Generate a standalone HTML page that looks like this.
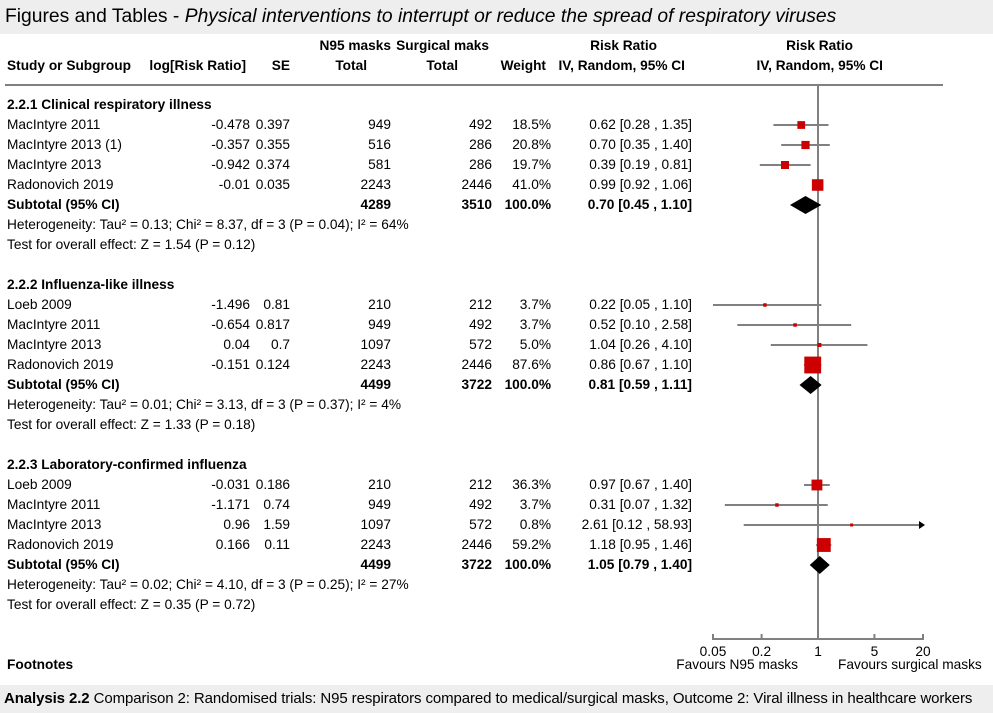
<!DOCTYPE html>
<html><head><meta charset="utf-8">
<style>
body{margin:0;width:993px;height:713px;background:#fff;position:relative;overflow:hidden;font-family:"Liberation Sans",Arial,sans-serif;color:#000}
.t{position:absolute;font-size:13.7px;white-space:nowrap;line-height:15px}
.b{font-weight:bold}
#topbar{position:absolute;left:0;top:0;width:993px;height:34px;background:#eeeeee}
#botbar{position:absolute;left:0;top:685px;width:993px;height:28px;background:#eeeeee}
svg{position:absolute;left:0;top:0}
</style></head><body>
<div id="topbar"><div style="position:absolute;left:5px;top:6px;font-size:19.3px">Figures and Tables - <i>Physical interventions to interrupt or reduce the spread of respiratory viruses</i></div></div>
<div id="botbar"><div style="position:absolute;left:4px;top:5px;font-size:15px;letter-spacing:-0.1px"><b>Analysis 2.2</b> Comparison 2: Randomised trials: N95 respirators compared to medical/surgical masks, Outcome 2: Viral illness in healthcare workers</div></div>
<div id="tbl"></div>
<svg id="plot" width="993" height="713"></svg>
<script>
const studies=[
["2.2.1 Clinical respiratory illness"],
["MacIntyre 2011","-0.478","0.397","949","492","18.5%","0.62 [0.28 , 1.35]"],
["MacIntyre 2013 (1)","-0.357","0.355","516","286","20.8%","0.70 [0.35 , 1.40]"],
["MacIntyre 2013","-0.942","0.374","581","286","19.7%","0.39 [0.19 , 0.81]"],
["Radonovich 2019","-0.01","0.035","2243","2446","41.0%","0.99 [0.92 , 1.06]"],
["Subtotal (95% CI)","","","4289","3510","100.0%","0.70 [0.45 , 1.10]","S"],
["Heterogeneity: Tau² = 0.13; Chi² = 8.37, df = 3 (P = 0.04); I² = 64%","H"],
["Test for overall effect: Z = 1.54 (P = 0.12)","H"],
[],
["2.2.2 Influenza-like illness"],
["Loeb 2009","-1.496","0.81","210","212","3.7%","0.22 [0.05 , 1.10]"],
["MacIntyre 2011","-0.654","0.817","949","492","3.7%","0.52 [0.10 , 2.58]"],
["MacIntyre 2013","0.04","0.7","1097","572","5.0%","1.04 [0.26 , 4.10]"],
["Radonovich 2019","-0.151","0.124","2243","2446","87.6%","0.86 [0.67 , 1.10]"],
["Subtotal (95% CI)","","","4499","3722","100.0%","0.81 [0.59 , 1.11]","S"],
["Heterogeneity: Tau² = 0.01; Chi² = 3.13, df = 3 (P = 0.37); I² = 4%","H"],
["Test for overall effect: Z = 1.33 (P = 0.18)","H"],
[],
["2.2.3 Laboratory-confirmed influenza"],
["Loeb 2009","-0.031","0.186","210","212","36.3%","0.97 [0.67 , 1.40]"],
["MacIntyre 2011","-1.171","0.74","949","492","3.7%","0.31 [0.07 , 1.32]"],
["MacIntyre 2013","0.96","1.59","1097","572","0.8%","2.61 [0.12 , 58.93]"],
["Radonovich 2019","0.166","0.11","2243","2446","59.2%","1.18 [0.95 , 1.46]"],
["Subtotal (95% CI)","","","4499","3722","100.0%","1.05 [0.79 , 1.40]","S"],
["Heterogeneity: Tau² = 0.02; Chi² = 4.10, df = 3 (P = 0.25); I² = 27%","H"],
["Test for overall effect: Z = 0.35 (P = 0.72)","H"]
];
const estimates=[null,0.62,0.70,0.39,0.99,0.70,null,null,null,null,0.22,0.52,1.04,0.86,0.81,null,null,null,null,0.97,0.31,2.61,1.18,1.05];
const lowers=[null,0.28,0.35,0.19,0.92,0.45,null,null,null,null,0.05,0.10,0.26,0.67,0.59,null,null,null,null,0.67,0.07,0.12,0.95,0.79];
const uppers=[null,1.35,1.40,0.81,1.06,1.10,null,null,null,null,1.10,2.58,4.10,1.10,1.11,null,null,null,null,1.40,1.32,58.93,1.46,1.40];
const weights=[null,18.5,20.8,19.7,41.0,null,null,null,null,null,3.7,3.7,5.0,87.6,null,null,null,null,null,36.3,3.7,0.8,59.2,null];
const ticks=[0.05,0.2,1,5,20];

const tbl=document.getElementById('tbl');
function txt(s,x,y,cls,right,name){
  const d=document.createElement('div');
  d.className='t '+(cls||'');
  d.textContent=s;
  if(right){d.style.right=(993-x)+'px';}else{d.style.left=x+'px';}
  d.style.top=(y-7)+'px';
  
  
  tbl.appendChild(d);
}
txt('N95 masks',391,45,'b',true,'header-n95');
txt('Surgical maks',489,45,'b',true,'header-surgical');
txt('Risk Ratio',657,45,'b',true,'header-rr');
txt('Risk Ratio',853,45,'b',true,'header-rr-plot');
txt('Study or Subgroup',7,65,'b',false,'header-study');
txt('log[Risk Ratio]',246,65,'b',true,'header-logrr');
txt('SE',290,65,'b',true,'header-se');
txt('Total',367,65,'b',true,'header-total-n95');
txt('Total',458,65,'b',true,'header-total-surgical');
txt('Weight',546,65,'b',true,'header-weight');
txt('IV, Random, 95% CI',685,65,'b',true,'header-ci');
txt('IV, Random, 95% CI',883,65,'b',true,'header-ci-plot');
txt('Footnotes',7,664,'b',false,'footnotes');
txt('Favours N95 masks',798,664,'',true,'favours-left');
txt('Favours surgical masks',838,664,'',false,'favours-right');

const svg=document.getElementById('plot');
const NS='http://www.w3.org/2000/svg';
const xs=v=>818+80.7*Math.log10(v);
const X0=xs(0.05),X1=xs(20);
const clamp=v=>Math.max(X0,Math.min(X1,v));
function el(tag,attrs,name){
  const e=document.createElementNS(NS,tag);
  for(const k in attrs)e.setAttribute(k,attrs[k]);
  
  
  svg.appendChild(e);return e;
}
el('line',{x1:5,y1:85,x2:943,y2:85,stroke:'#808080','stroke-width':2},'header-rule');

studies.forEach((r,i)=>{
  const y=104+i*20;
  if(r.length===1){txt(r[0],7,y,'b',false,'subgroup-heading');return;}
  if(r.length===2){txt(r[0],7,y,'',false,'heterogeneity-text');return;}
  if(r.length===0)return;
  const S=r[7]==='S';const c=S?'b':'';
  txt(r[0],7,y,c,false,S?'subtotal-label':'study-name');
  if(r[1])txt(r[1],250,y,'',true,'log-rr');
  if(r[2])txt(r[2],290,y,'',true,'se');
  txt(r[3],391,y,c,true,'n95-total');
  txt(r[4],492,y,c,true,'surgical-total');
  txt(r[5],551,y,c,true,'weight');
  txt(r[6],692,y,c,true,'risk-ratio-ci');
});

el('line',{x1:818,y1:85,x2:818,y2:639,stroke:'#808080','stroke-width':2},'null-line');

estimates.forEach((e,i)=>{
  if(e==null)return;
  const y=124+(i-1)*20+1;
  const lo=lowers[i],hi=uppers[i];
  if(weights[i]==null){
    el('polygon',{points:`${xs(lo)},${y} ${xs(e)},${y-9} ${xs(hi)},${y} ${xs(e)},${y+9}`,fill:'#000'},'subtotal-diamond');
    return;
  }
  const a=clamp(xs(lo)),b=clamp(xs(hi));
  el('line',{x1:a,y1:y,x2:b,y2:y,stroke:'#808080','stroke-width':2},'ci-line');
  if(xs(lo)<X0)el('polygon',{points:`${X0-2},${y} ${X0+4},${y-4} ${X0+4},${y+4}`,fill:'#000'},'ci-arrow-left');
  if(xs(hi)>X1)el('polygon',{points:`${X1+2},${y} ${X1-4},${y-4} ${X1-4},${y+4}`,fill:'#000'},'ci-arrow-right');
  const s=Math.max(3,1.8*Math.sqrt(weights[i]));
  el('rect',{x:xs(e)-s/2,y:y-s/2,width:s,height:s,fill:'#cc0000'},'study-square');
});

el('line',{x1:X0,y1:639,x2:X1,y2:639,stroke:'#808080','stroke-width':2},'x-axis');
ticks.forEach(t=>{
  el('line',{x1:xs(t),y1:634,x2:xs(t),y2:640,stroke:'#808080','stroke-width':2},'x-tick');
  const tx=el('text',{x:xs(t),y:656,'text-anchor':'middle','font-size':13.7,'font-family':'Liberation Sans, Arial, sans-serif'},'x-tick-label');
  tx.textContent=String(t);
});
</script>
</body></html>
